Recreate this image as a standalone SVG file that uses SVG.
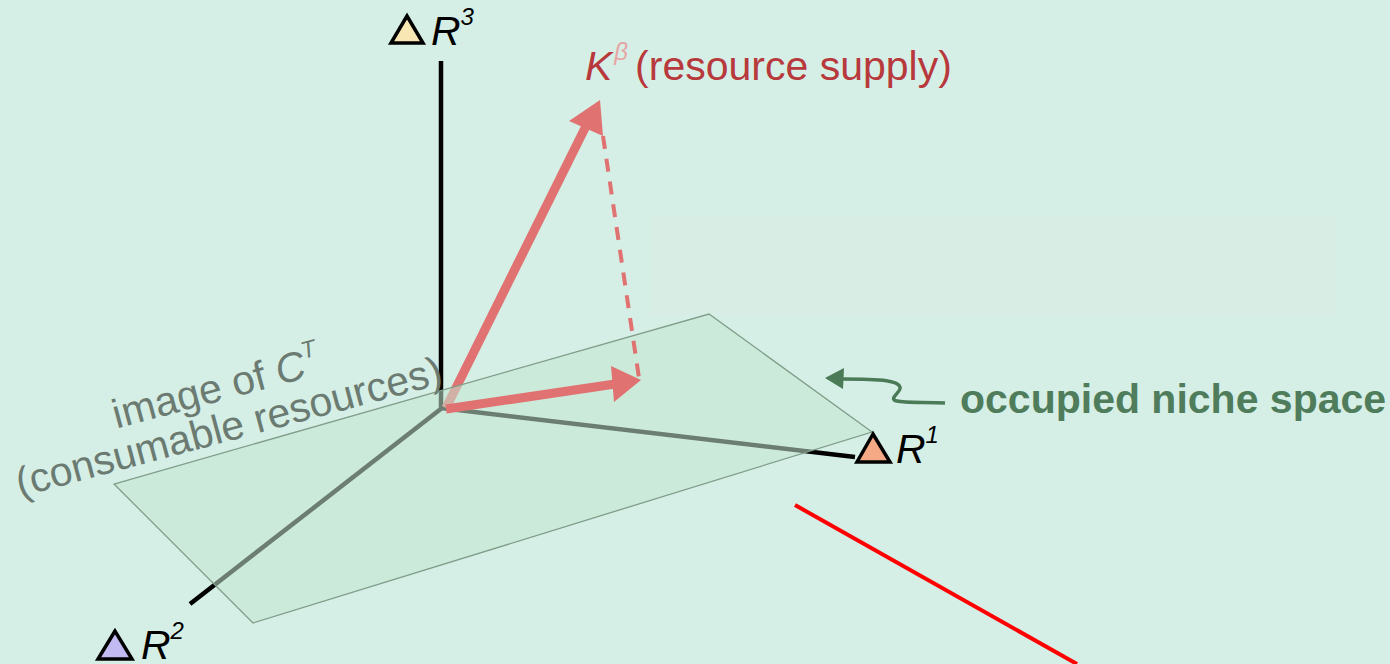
<svg xmlns="http://www.w3.org/2000/svg" width="1390" height="664" viewBox="0 0 1390 664">
<style>
  .axis{stroke:#000;stroke-width:4.5;fill:none;stroke-linecap:butt}
  .tri{stroke:#000;stroke-width:3.5;stroke-linejoin:miter}
  .lbl{font-family:"Liberation Sans",Arial,sans-serif;font-size:41px;fill:#000;font-style:italic}
  .sup{font-size:24px}
  .red{fill:#b8393c;font-family:"Liberation Sans",Arial,sans-serif;font-size:41px}
  .vec{stroke:#e07272;stroke-width:9;fill:none}
  .gray{fill:#6b7b72;font-family:"Liberation Sans",Arial,sans-serif;font-size:41px}
  .green{fill:#4f7d5c;font-family:"Liberation Sans",Arial,sans-serif;font-size:41px;font-weight:bold}
</style>
<rect x="0" y="0" width="1390" height="664" fill="#d6efe6"/>
<rect x="650" y="215" width="687" height="100" fill="#d8eee4"/>

<g id="connectors">
  <line id="axis-r3" class="axis" x1="441" y1="61" x2="441" y2="409"/>
  <line id="axis-r1" class="axis" x1="441" y1="408" x2="855" y2="457"/>
  <line id="axis-r2" class="axis" x1="442" y1="408" x2="190" y2="604"/>
  <g id="k-vector">
    <line class="vec" x1="446" y1="408" x2="587" y2="124"/>
    <polygon points="600,100 569,121 603,136" fill="#e07272"/>
  </g>
</g>

<g id="plane">
  <polygon points="114,484 709,314 872,432 253,623" fill="#c4e5d0" fill-opacity="0.55" stroke="#7f9d89" stroke-width="1.3"/>
</g>

<g id="projection">
  <line class="vec" x1="446" y1="409" x2="615" y2="384"/>
  <polygon points="641,380 611,366 614,402" fill="#e07272"/>
  <line x1="603" y1="136" x2="639" y2="378" stroke="#e07272" stroke-width="4" stroke-dasharray="13,10"/>
</g>

<g id="niche-pointer">
  <path d="M945,403 C925,402 905,403 897,401 C887,399 902,392 900,387 C898,381 885,379 842,379" fill="none" stroke="#4a7a56" stroke-width="3.5"/>
  <polygon points="825,378 844,368 843,389" fill="#4a7a56"/>
</g>

<g id="r3">
  <polygon class="tri" points="407,16 391,43 423,43" fill="#f8e7b2"/>
  <text class="lbl" x="431" y="45">R<tspan class="sup" dy="-20">3</tspan></text>
</g>
<g id="r1">
  <polygon class="tri" points="873,434 857,462 890,462" fill="#f6a985"/>
  <text class="lbl" x="896" y="463">R<tspan class="sup" dy="-20">1</tspan></text>
</g>
<g id="r2">
  <polygon class="tri" points="115,631 98,659 132,659" fill="#c2baf2"/>
  <text class="lbl" x="141" y="659">R<tspan class="sup" dy="-20">2</tspan></text>
</g>

<g id="k-label">
  <text class="red" x="585" y="80"><tspan font-style="italic">K</tspan><tspan font-style="italic" font-size="24" fill="#e6a4a4" dy="-20" dx="2">β</tspan><tspan dy="20" dx="7">(resource supply)</tspan></text>
</g>

<g id="niche-label">
  <text class="green" x="960" y="413">occupied niche space</text>
</g>

<g id="image-label" transform="translate(20,497) rotate(-15)">
  <text class="gray" x="111" y="-41">image of <tspan font-style="italic">C</tspan><tspan font-style="italic" font-size="24" dy="-19">T</tspan></text>
  <text class="gray" x="0" y="0">(consumable resources)</text>
</g>

<line id="red-mark" x1="795" y1="505" x2="1077" y2="664" stroke="#ff0000" stroke-width="4"/>
</svg>
